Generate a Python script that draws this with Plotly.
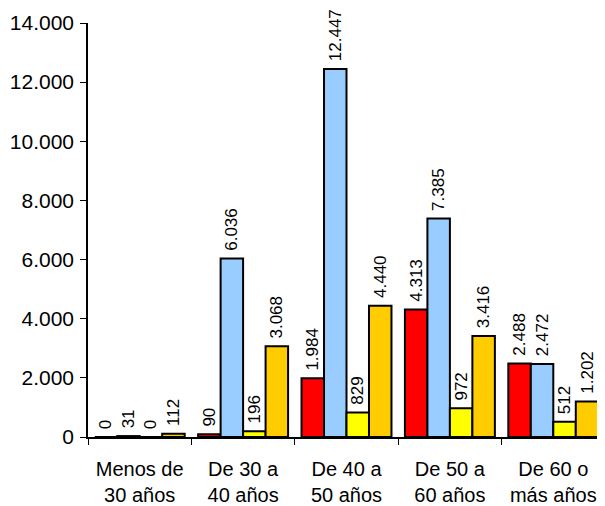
import plotly.graph_objects as go

categories = ["Menos de<br>30 años", "De 30 a<br>40 años", "De 40 a<br>50 años",
              "De 50 a<br>60 años", "De 60 o<br>más años"]
serie_roja = [0, 90, 1984, 4313, 2488]
serie_azul = [31, 6036, 12447, 7385, 2472]
serie_amarilla = [0, 196, 829, 972, 512]
serie_naranja = [112, 3068, 4440, 3416, 1202]
colores = ["#FF0000", "#99CCFF", "#FFFF00", "#FFCC00"]
y_ticks = [0, 2000, 4000, 6000, 8000, 10000, 12000, 14000]


def fmt(v):
    return f"{v:,}".replace(",", ".")


fig = go.Figure()
for vals, col in zip([serie_roja, serie_azul, serie_amarilla, serie_naranja], colores):
    fig.add_trace(go.Bar(
        x=categories, y=vals, marker=dict(color=col, line=dict(color="black", width=2)),
        text=["\u00a0" + fmt(v) for v in vals], textposition="outside", textangle=-90,
        textfont=dict(family="Liberation Sans, Arial", size=17, color="black"),
        cliponaxis=False, showlegend=False,
    ))

fig.update_layout(
    width=597, height=498, barmode="group", bargap=0.13, bargroupgap=0,
    separators=",.",
    margin=dict(l=80, r=0, t=15, b=69, autoexpand=False),
    plot_bgcolor="white", paper_bgcolor="white",
    font=dict(family="Liberation Sans, Arial", size=20, color="black"),
    uniformtext=dict(minsize=17, mode="show"),
)
fig.update_xaxes(showline=True, linecolor="black", linewidth=1.5, ticks="outside",
                 tickson="boundaries", ticklen=6, tickcolor="black", showgrid=False,
                 tickfont=dict(size=20), ticklabelstandoff=13, automargin=False)
fig.update_yaxes(range=[0, 14000], tickvals=y_ticks, ticktext=[fmt(v) for v in y_ticks],
                 showline=True, linecolor="black", linewidth=1.5, ticks="outside",
                 ticklen=6, tickcolor="black", showgrid=False, zeroline=False,
                 tickfont=dict(size=21), ticklabelstandoff=2, automargin=False)

fig.write_html("out.html")
